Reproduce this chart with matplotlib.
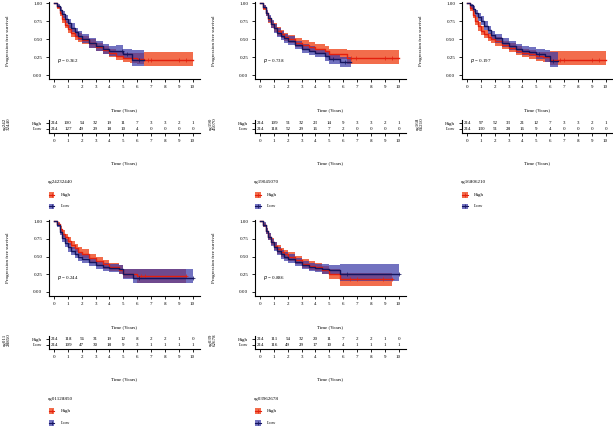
import numpy as np
import matplotlib
matplotlib.use("Agg")
import matplotlib.pyplot as plt
from matplotlib.patches import Rectangle
from matplotlib.lines import Line2D

plt.rcParams['font.family'] = ['Liberation Serif', 'DejaVu Serif']

#probe names, p values and the rotated short labels
probes = ["cg24232440", "cg19045070", "cg16806210", "cg01128850", "cg03962678"]
short_labels = ["cg242\n32440", "cg190\n45070", "cg168\n06210", "cg011\n28850", "cg039\n62678"]
p_values = ["0.362", "0.738", "0.197", "0.244", "0.886"]
years = list(range(11))

#numbers at risk (High, Low)
risk_high = [[214, 100, 54, 32, 19, 11, 7, 3, 3, 2, 1],
             [214, 109, 51, 32, 23, 14, 9, 3, 3, 2, 1],
             [214, 97, 52, 33, 21, 12, 7, 3, 3, 2, 1],
             [214, 118, 56, 31, 19, 12, 8, 2, 2, 1, 0],
             [214, 111, 54, 32, 20, 11, 7, 2, 2, 1, 0]]
risk_low = [[214, 127, 49, 29, 18, 10, 4, 0, 0, 0, 0],
            [214, 118, 52, 29, 16, 7, 2, 0, 0, 0, 0],
            [214, 130, 51, 28, 16, 9, 4, 0, 0, 0, 0],
            [214, 109, 47, 30, 18, 9, 3, 1, 1, 1, 1],
            [214, 116, 49, 29, 17, 10, 4, 1, 1, 1, 1]]

#survival curves: time, survival, lower ci, upper ci
p1_high_t = [0, 0.2, 0.4, 0.6, 0.8, 1.0, 1.25, 1.5, 1.75, 2.0, 2.5, 3.0, 3.5, 4.0, 4.5, 5.0, 5.5, 6.0, 6.5, 10.0]
p1_high_s = [1.0, 0.95, 0.86, 0.78, 0.70, 0.64, 0.59, 0.55, 0.52, 0.49, 0.44, 0.39, 0.35, 0.31, 0.27, 0.24, 0.24, 0.22, 0.21, 0.21]
p1_high_lo = [1.0, 0.92, 0.82, 0.73, 0.65, 0.58, 0.53, 0.49, 0.46, 0.43, 0.38, 0.33, 0.29, 0.25, 0.21, 0.18, 0.17, 0.15, 0.13, 0.13]
p1_high_hi = [1.0, 0.98, 0.91, 0.83, 0.76, 0.70, 0.65, 0.61, 0.58, 0.55, 0.50, 0.45, 0.41, 0.37, 0.34, 0.31, 0.31, 0.31, 0.32, 0.32]
p1_high_cens = [6.8, 7.0, 9.0, 9.5]
p1_low_t = [0, 0.2, 0.4, 0.6, 0.8, 1.0, 1.25, 1.5, 1.75, 2.0, 2.5, 3.0, 3.5, 4.0, 4.5, 5.0, 5.6, 6.5]
p1_low_s = [1.0, 0.96, 0.91, 0.85, 0.78, 0.72, 0.66, 0.60, 0.55, 0.50, 0.44, 0.40, 0.36, 0.34, 0.33, 0.29, 0.21, 0.21]
p1_low_lo = [1.0, 0.93, 0.87, 0.80, 0.72, 0.66, 0.60, 0.54, 0.49, 0.44, 0.38, 0.34, 0.30, 0.27, 0.25, 0.22, 0.12, 0.12]
p1_low_hi = [1.0, 0.99, 0.95, 0.90, 0.84, 0.78, 0.72, 0.66, 0.61, 0.57, 0.51, 0.47, 0.43, 0.41, 0.42, 0.37, 0.35, 0.35]
p1_low_cens = [4.9, 5.3, 6.1]

p2_high_t = [0, 0.2, 0.4, 0.6, 0.8, 1.0, 1.25, 1.5, 1.75, 2.0, 2.5, 3.0, 3.5, 4.0, 4.7, 5.0, 6.3, 10.0]
p2_high_s = [1.0, 0.94, 0.86, 0.78, 0.71, 0.66, 0.61, 0.57, 0.53, 0.50, 0.45, 0.42, 0.39, 0.36, 0.33, 0.29, 0.24, 0.24]
p2_high_lo = [1.0, 0.91, 0.82, 0.73, 0.66, 0.60, 0.55, 0.51, 0.47, 0.44, 0.39, 0.36, 0.33, 0.30, 0.26, 0.22, 0.16, 0.16]
p2_high_hi = [1.0, 0.97, 0.90, 0.83, 0.76, 0.72, 0.67, 0.63, 0.59, 0.56, 0.52, 0.49, 0.46, 0.43, 0.40, 0.37, 0.35, 0.35]
p2_high_cens = [6.6, 6.9, 9.0, 9.5]
p2_low_t = [0, 0.2, 0.4, 0.6, 0.8, 1.0, 1.25, 1.5, 1.75, 2.0, 2.5, 3.0, 3.5, 4.0, 4.7, 5.0, 5.8, 6.6]
p2_low_s = [1.0, 0.95, 0.87, 0.79, 0.71, 0.65, 0.59, 0.55, 0.51, 0.48, 0.42, 0.37, 0.34, 0.31, 0.26, 0.22, 0.18, 0.18]
p2_low_lo = [1.0, 0.92, 0.83, 0.74, 0.66, 0.59, 0.53, 0.49, 0.45, 0.42, 0.36, 0.31, 0.28, 0.25, 0.20, 0.16, 0.11, 0.11]
p2_low_hi = [1.0, 0.98, 0.91, 0.84, 0.77, 0.71, 0.65, 0.61, 0.57, 0.54, 0.48, 0.43, 0.40, 0.37, 0.32, 0.29, 0.25, 0.25]
p2_low_cens = [5.3, 6.1]

p3_high_t = [0, 0.2, 0.4, 0.6, 0.8, 1.0, 1.25, 1.5, 1.75, 2.0, 2.5, 3.0, 3.5, 4.0, 4.5, 5.0, 5.5, 6.0, 10.0]
p3_high_s = [1.0, 0.93, 0.84, 0.75, 0.68, 0.62, 0.57, 0.53, 0.50, 0.47, 0.42, 0.38, 0.34, 0.31, 0.29, 0.26, 0.25, 0.21, 0.21]
p3_high_lo = [1.0, 0.90, 0.80, 0.70, 0.62, 0.56, 0.51, 0.47, 0.44, 0.41, 0.36, 0.32, 0.28, 0.25, 0.23, 0.20, 0.18, 0.14, 0.14]
p3_high_hi = [1.0, 0.96, 0.89, 0.81, 0.74, 0.68, 0.63, 0.59, 0.56, 0.53, 0.48, 0.44, 0.40, 0.37, 0.35, 0.32, 0.32, 0.33, 0.33]
p3_high_cens = [6.7, 7.0, 9.0, 9.5]
p3_low_t = [0, 0.2, 0.4, 0.6, 0.8, 1.0, 1.25, 1.5, 1.75, 2.0, 2.5, 3.0, 3.5, 4.0, 4.5, 5.0, 5.6, 6.0, 6.6]
p3_low_s = [1.0, 0.97, 0.92, 0.86, 0.81, 0.76, 0.69, 0.63, 0.56, 0.51, 0.45, 0.41, 0.37, 0.34, 0.32, 0.30, 0.26, 0.20, 0.20]
p3_low_lo = [1.0, 0.94, 0.88, 0.81, 0.75, 0.70, 0.63, 0.57, 0.50, 0.45, 0.39, 0.35, 0.31, 0.28, 0.26, 0.23, 0.18, 0.11, 0.11]
p3_low_hi = [1.0, 0.99, 0.96, 0.91, 0.87, 0.82, 0.75, 0.69, 0.62, 0.57, 0.51, 0.47, 0.43, 0.41, 0.39, 0.37, 0.35, 0.32, 0.32]
p3_low_cens = [5.2, 6.2]

p4_high_t = [0, 0.2, 0.4, 0.6, 0.8, 1.0, 1.25, 1.5, 1.75, 2.0, 2.5, 3.0, 3.5, 4.0, 4.7, 5.0, 6.0, 9.5]
p4_high_s = [1.0, 0.96, 0.89, 0.82, 0.77, 0.72, 0.66, 0.62, 0.57, 0.54, 0.48, 0.44, 0.39, 0.35, 0.31, 0.26, 0.22, 0.22]
p4_high_lo = [1.0, 0.93, 0.85, 0.77, 0.71, 0.66, 0.60, 0.56, 0.51, 0.48, 0.42, 0.38, 0.33, 0.29, 0.25, 0.20, 0.13, 0.13]
p4_high_hi = [1.0, 0.99, 0.93, 0.87, 0.82, 0.78, 0.72, 0.68, 0.63, 0.60, 0.54, 0.50, 0.45, 0.41, 0.38, 0.33, 0.32, 0.32]
p4_high_cens = [6.3, 6.6, 9.5]
p4_low_t = [0, 0.2, 0.4, 0.6, 0.8, 1.0, 1.25, 1.5, 1.75, 2.0, 2.5, 3.0, 3.5, 4.0, 4.7, 5.0, 5.7, 10.0]
p4_low_s = [1.0, 0.94, 0.85, 0.76, 0.69, 0.63, 0.58, 0.54, 0.50, 0.47, 0.42, 0.38, 0.35, 0.34, 0.32, 0.25, 0.20, 0.20]
p4_low_lo = [1.0, 0.91, 0.81, 0.71, 0.63, 0.57, 0.52, 0.48, 0.44, 0.41, 0.36, 0.32, 0.29, 0.28, 0.26, 0.19, 0.12, 0.12]
p4_low_hi = [1.0, 0.97, 0.89, 0.81, 0.75, 0.69, 0.64, 0.60, 0.56, 0.53, 0.48, 0.44, 0.41, 0.40, 0.38, 0.32, 0.33, 0.33]
p4_low_cens = [6.1, 10.0]

p5_high_t = [0, 0.2, 0.4, 0.6, 0.8, 1.0, 1.25, 1.5, 1.75, 2.0, 2.5, 3.0, 3.5, 4.0, 4.5, 5.0, 5.8, 9.5]
p5_high_s = [1.0, 0.94, 0.86, 0.78, 0.71, 0.65, 0.60, 0.56, 0.53, 0.50, 0.45, 0.40, 0.37, 0.35, 0.31, 0.25, 0.18, 0.18]
p5_high_lo = [1.0, 0.91, 0.82, 0.73, 0.66, 0.59, 0.54, 0.50, 0.47, 0.44, 0.39, 0.34, 0.31, 0.29, 0.25, 0.19, 0.09, 0.09]
p5_high_hi = [1.0, 0.97, 0.90, 0.83, 0.76, 0.71, 0.66, 0.62, 0.59, 0.56, 0.51, 0.46, 0.43, 0.41, 0.37, 0.32, 0.27, 0.27]
p5_high_cens = [6.5, 7.0, 8.9, 9.5]
p5_low_t = [0, 0.2, 0.4, 0.6, 0.8, 1.0, 1.25, 1.5, 1.75, 2.0, 2.5, 3.0, 3.5, 4.0, 4.5, 5.0, 5.8, 10.0]
p5_low_s = [1.0, 0.95, 0.86, 0.78, 0.70, 0.64, 0.58, 0.53, 0.50, 0.47, 0.42, 0.38, 0.35, 0.34, 0.33, 0.31, 0.26, 0.26]
p5_low_lo = [1.0, 0.92, 0.82, 0.73, 0.65, 0.58, 0.52, 0.47, 0.44, 0.41, 0.36, 0.32, 0.29, 0.28, 0.26, 0.24, 0.16, 0.16]
p5_low_hi = [1.0, 0.98, 0.90, 0.83, 0.75, 0.70, 0.64, 0.59, 0.56, 0.53, 0.48, 0.44, 0.41, 0.40, 0.40, 0.38, 0.40, 0.40]
p5_low_cens = [6.3, 10.0]

curves = [
    ((p1_high_t, p1_high_s, p1_high_lo, p1_high_hi, p1_high_cens), (p1_low_t, p1_low_s, p1_low_lo, p1_low_hi, p1_low_cens)),
    ((p2_high_t, p2_high_s, p2_high_lo, p2_high_hi, p2_high_cens), (p2_low_t, p2_low_s, p2_low_lo, p2_low_hi, p2_low_cens)),
    ((p3_high_t, p3_high_s, p3_high_lo, p3_high_hi, p3_high_cens), (p3_low_t, p3_low_s, p3_low_lo, p3_low_hi, p3_low_cens)),
    ((p4_high_t, p4_high_s, p4_high_lo, p4_high_hi, p4_high_cens), (p4_low_t, p4_low_s, p4_low_lo, p4_low_hi, p4_low_cens)),
    ((p5_high_t, p5_high_s, p5_high_lo, p5_high_hi, p5_high_cens), (p5_low_t, p5_low_s, p5_low_lo, p5_low_hi, p5_low_cens)),
]

#colours
red_line, red_fill, red_alpha = '#E3200E', '#F0532C', 0.85
blue_line, blue_fill, blue_alpha = '#15155F', '#3C3CA8', 0.72
fs = 3.6

W, H = 613, 428
fig = plt.figure(figsize=(W / 100, H / 100), dpi=100)


def fx(x):
    return x / W


def fy(y):
    return 1 - y / H


def style_axis(ax):
    for side in ['top', 'right']:
        ax.spines[side].set_visible(False)
    for side in ['left', 'bottom']:
        ax.spines[side].set_linewidth(0.8)
    ax.tick_params(direction='out', length=2.5, width=0.6, labelsize=fs, pad=2)


def step_value(t, s, x):
    #value of the step curve at time x
    idx = np.searchsorted(t, x, side='right') - 1
    return s[idx]


#pixel layout of the panels
col_left = [48.5, 254.5, 461.5]
col_w = 151
km_rows = [(1.9, 79.0), (219.6, 295.9)]
risk_rows = [(120.0, 133.0), (336.0, 349.0)]

for i in range(5):
    r, c = divmod(i, 3)
    left = col_left[c]
    km_top, km_bot = km_rows[r]
    rk_top, rk_bot = risk_rows[r]

    #survival plot
    ax = fig.add_axes([fx(left), fy(km_bot), col_w / W, (km_bot - km_top) / H])
    high, low = curves[i]
    for grp, fc, alpha in [(high, red_fill, red_alpha), (low, blue_fill, blue_alpha)]:
        t, s, lo, hi, cens = grp
        ax.fill_between(t, lo, hi, step='post', color=fc, alpha=alpha, linewidth=0)
    for grp, lc in [(high, red_line), (low, blue_line)]:
        t, s, lo, hi, cens = grp
        ax.step(t, s, where='post', color=lc, linewidth=1.0)
        cy = [step_value(t, s, x) for x in cens]
        ax.plot(cens, cy, '+', color=lc, markersize=2.5, markeredgewidth=0.5)
    ax.set_xlim(-0.4, 10.5)
    ax.set_ylim(-0.055, 1.02)
    ax.set_xticks(years)
    ax.set_yticks([0, 0.25, 0.5, 0.75, 1.0])
    ax.set_yticklabels(['0.00', '0.25', '0.50', '0.75', '1.00'])
    style_axis(ax)
    ax.set_ylabel('Progression free survival', fontsize=fs)
    ax.yaxis.set_label_coords(-0.255, 0.5)
    ax.text(0.2, 0.2, '$p$ = ' + p_values[i], fontsize=fs, va='center')
    fig.text(fx(left + col_w / 2), fy(km_bot + 31), 'Time (Years)', fontsize=fs, ha='center', va='center')

    #number at risk table
    rk = fig.add_axes([fx(left), fy(rk_bot), col_w / W, (rk_bot - rk_top) / H])
    for x, n in zip(years, risk_high[i]):
        rk.text(x, 1, str(n), fontsize=fs, ha='center', va='center')
    for x, n in zip(years, risk_low[i]):
        rk.text(x, 0, str(n), fontsize=fs, ha='center', va='center')
    rk.set_xlim(-0.4, 10.5)
    rk.set_ylim(-0.8, 1.6)
    rk.set_xticks(years)
    rk.set_yticks([1, 0])
    rk.set_yticklabels(['High', 'Low'])
    style_axis(rk)
    fig.text(fx(left + col_w / 2), fy(rk_bot + 30), 'Time (Years)', fontsize=fs, ha='center', va='center')
    fig.text(fx(left - 42), fy(rk_bot - 9), short_labels[i], fontsize=fs, rotation=90,
             ha='center', va='center', linespacing=1.0)

    #legend
    fig.text(fx(left - 1), fy(km_bot + 103), probes[i], fontsize=fs, ha='left', va='center')
    for dy, lab, lc, fc, alpha in [(115.5, 'High', red_line, red_fill, red_alpha), (127.5, 'Low', blue_line, blue_fill, blue_alpha)]:
        yk = km_bot + dy
        fig.add_artist(Rectangle((fx(left), fy(yk + 3)), 6 / W, 6 / H, transform=fig.transFigure,
                                 facecolor=fc, alpha=alpha, edgecolor='none'))
        fig.add_artist(Line2D([fx(left), fx(left + 6)], [fy(yk), fy(yk)], transform=fig.transFigure,
                              color=lc, linewidth=0.8))
        fig.add_artist(Line2D([fx(left + 3)], [fy(yk)], transform=fig.transFigure,
                              color=lc, marker='+', markersize=2.5, markeredgewidth=0.5, linestyle='none'))
        fig.text(fx(left + 12), fy(yk), lab, fontsize=fs, ha='left', va='center')

fig.savefig('out.png', dpi=100)
